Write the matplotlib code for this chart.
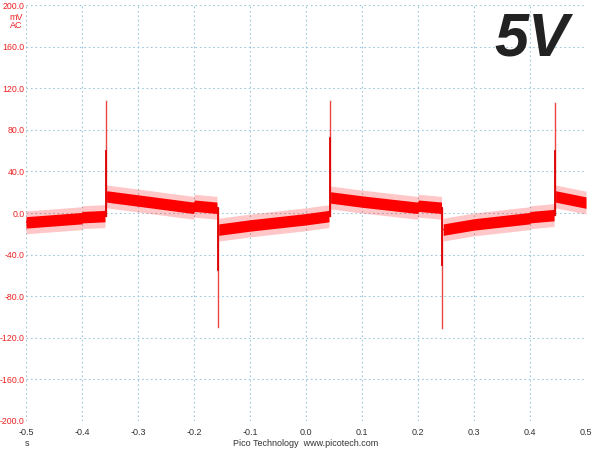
import matplotlib
matplotlib.use("Agg")
import matplotlib.pyplot as plt
import numpy as np

plt.rcParams["font.family"] = ["Liberation Sans", "DejaVu Sans"]

# trace key points (time in s, level in mV)
seg_t = [
    [-0.500, -0.450, -0.401, -0.399, -0.359],
    [-0.357, -0.300, -0.201, -0.199, -0.159],
    [-0.156, -0.100, 0.000, 0.041],
    [0.043, 0.100, 0.199, 0.201, 0.242],
    [0.245, 0.300, 0.399, 0.401, 0.443],
    [0.445, 0.500],
]
seg_v = [
    [-9, -7, -5, -4, -3],
    [16, 12, 5, 7, 5],
    [-16, -12, -6, -3],
    [15, 11, 5, 7, 5],
    [-16, -11, -5, -4, -2],
    [16, 10],
]
noise_half = 5.5     # mV, core band
noise_peak = 11.0    # mV, occasional noise tips

# edge spikes
spike_t = [-0.358, -0.158, 0.042, 0.243, 0.444]
spike_from = [-3, 5, -3, 5, -2]
spike_peak = [108, -110, 108, -111, 106]
spike_mid = [60, -55, 72, -50, 60]

xticks = [-0.5, -0.4, -0.3, -0.2, -0.1, 0.0, 0.1, 0.2, 0.3, 0.4, 0.5]
yticks = [-200, -160, -120, -80, -40, 0, 40, 80, 120, 160, 200]

red = "#ff0000"

fig = plt.figure(figsize=(6, 4.5), dpi=100)
ax = fig.add_axes([26 / 600, 29 / 450, 560 / 600, 416 / 450])

for t, v in zip(seg_t, seg_v):
    t = np.array(t)
    v = np.array(v, dtype=float)
    ax.fill_between(t, v - noise_peak, v + noise_peak, color=red, alpha=0.22, lw=0)
    ax.fill_between(t, v - noise_half, v + noise_half, color=red, lw=0)
    ax.plot(t, v, color=red, lw=1)

for t, a, m, p in zip(spike_t, spike_from, spike_mid, spike_peak):
    ax.plot([t, t], [a, p], color="#ee4444", lw=1)
    ax.plot([t, t], [a, m], color="#dd0000", lw=1.3)

ax.set_xlim(-0.5, 0.5)
ax.set_ylim(-200, 200)
ax.set_xticks(xticks)
ax.set_yticks(yticks)
ax.set_xticklabels(["%.1f" % x for x in xticks], color="#333333", fontsize=6.5)
ax.set_yticklabels(["%.1f" % y for y in yticks], color="#ee2222", fontsize=6.3)
ax.tick_params(axis="y", length=0, pad=1)
ax.tick_params(axis="x", length=0, pad=5)
for s in ax.spines.values():
    s.set_visible(False)
ax.grid(True, color="#9cc8dc", ls=(0, (1.5, 2.5)), lw=0.8)
ax.set_axisbelow(True)

fig.text(16 / 600, 1 - 17 / 450, "mV", color="#ee2222", fontsize=6.5, ha="center", va="center")
fig.text(16 / 600, 1 - 25 / 450, "AC", color="#ee2222", fontsize=6.5, ha="center", va="center")
fig.text(27 / 600, 1 - 444 / 450, "s", color="#333333", fontsize=6.5, ha="center", va="center")
fig.text(306 / 600, 1 - 444 / 450, "Pico Technology  www.picotech.com", color="#333333",
         fontsize=6.5, ha="center", va="center")
fig.text(532 / 600, 1 - 40 / 450, "5V", color="#222222", fontsize=44, fontweight="bold",
         fontstyle="italic", ha="center", va="center")

fig.savefig("out.png", dpi=100)
